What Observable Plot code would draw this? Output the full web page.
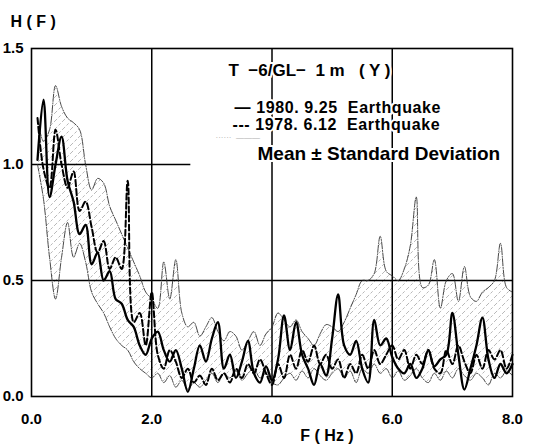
<!DOCTYPE html>
<html><head><meta charset="utf-8">
<script src="https://cdn.jsdelivr.net/npm/d3@7"></script>
<script src="https://cdn.jsdelivr.net/npm/@observablehq/plot@0.6"></script>
<style>
body{margin:0;background:#fff}
g[aria-label$="tick label"] text, g[aria-label$="tick label"]{font-weight:bold !important;}
.leg text{letter-spacing:0.6px}
</style>
</head><body><div id="chart"></div>
<script>
const freq = [0.1,0.2,0.3,0.4,0.5,0.6,0.7,0.8,0.9,1.0,1.1,1.2,1.3,1.4,1.5,1.6,1.7,1.8,1.9,2.0,
  2.1,2.2,2.3,2.4,2.5,2.6,2.7,2.8,2.9,3.0,3.1,3.2,3.3,3.4,3.5,3.6,3.7,3.8,3.9,4.0,
  4.1,4.2,4.3,4.4,4.5,4.6,4.7,4.8,4.9,5.0,5.1,5.2,5.3,5.4,5.5,5.6,5.7,5.8,5.9,6.0,
  6.1,6.2,6.3,6.4,6.5,6.6,6.7,6.8,6.9,7.0,7.1,7.2,7.3,7.4,7.5,7.6,7.7,7.8,7.9,8.0];
const eq1980 = [1.02,1.28,0.86,1.0,1.12,0.93,0.84,0.70,0.74,0.57,0.62,0.50,0.54,0.42,0.40,0.33,0.30,0.22,0.18,0.25,
  0.28,0.20,0.15,0.20,0.12,0.02,0.12,0.22,0.15,0.25,0.32,0.12,0.18,0.08,0.15,0.24,0.10,0.06,0.13,0.07,
  0.16,0.35,0.20,0.32,0.18,0.12,0.05,0.14,0.09,0.25,0.44,0.22,0.18,0.24,0.12,0.06,0.33,0.22,0.25,0.17,
  0.12,0.10,0.14,0.08,0.12,0.20,0.13,0.16,0.18,0.36,0.18,0.03,0.12,0.22,0.34,0.16,0.08,0.14,0.10,0.14];
const eq1978 = [1.20,0.98,0.90,1.15,1.00,0.90,0.97,0.80,0.84,0.73,0.62,0.67,0.55,0.60,0.55,0.93,0.32,0.36,0.22,0.45,
  0.18,0.12,0.20,0.15,0.08,0.12,0.06,0.09,0.05,0.12,0.07,0.10,0.06,0.12,0.08,0.14,0.10,0.16,0.10,0.05,
  0.14,0.08,0.18,0.12,0.20,0.15,0.22,0.14,0.18,0.12,0.16,0.08,0.14,0.10,0.18,0.12,0.20,0.14,0.18,0.22,
  0.16,0.20,0.12,0.18,0.14,0.20,0.12,0.10,0.20,0.14,0.22,0.15,0.10,0.18,0.12,0.20,0.16,0.20,0.12,0.18];
const sdUpper = [1.20,1.10,1.15,1.34,1.25,1.20,1.18,1.15,1.00,0.89,0.94,0.92,0.82,0.76,0.70,0.64,0.58,0.52,0.45,0.42,
  0.38,0.58,0.42,0.59,0.36,0.30,0.32,0.26,0.30,0.34,0.28,0.24,0.28,0.26,0.20,0.24,0.28,0.22,0.27,0.30,
  0.36,0.33,0.30,0.33,0.28,0.25,0.22,0.27,0.31,0.30,0.28,0.32,0.38,0.44,0.50,0.50,0.53,0.69,0.54,0.52,
  0.50,0.55,0.65,0.86,0.47,0.48,0.59,0.38,0.50,0.53,0.41,0.56,0.43,0.41,0.45,0.47,0.50,0.66,0.47,0.45];
const sdLower = [1.00,0.85,0.60,0.42,0.60,0.75,0.60,0.66,0.58,0.45,0.40,0.36,0.30,0.25,0.22,0.20,0.15,0.12,0.10,0.08,
  0.10,0.06,0.09,0.04,0.07,0.03,0.06,0.04,0.07,0.10,0.06,0.10,0.08,0.11,0.07,0.10,0.12,0.08,0.10,0.06,
  0.05,0.08,0.10,0.07,0.11,0.08,0.12,0.09,0.07,0.10,0.12,0.08,0.11,0.06,0.12,0.10,0.14,0.10,0.12,0.08,
  0.11,0.07,0.09,0.12,0.08,0.06,0.10,0.07,0.11,0.08,0.12,0.09,0.07,0.10,0.08,0.05,0.10,0.08,0.11,0.09];
const xTicks = [0, 2, 4, 6, 8];
const yTicks = [0, 0.5, 1.0, 1.5];
const xGrid = [2, 4, 6];
const yGrid = [0.5];
const yGridShort = [1.0];

const rows = freq.map((f, i) => ({f, a: eq1980[i], b: eq1978[i], hi: sdUpper[i], lo: sdLower[i]}));
const font = "'Liberation Sans', Arial, Helvetica, sans-serif";
const halo = {stroke: "white", strokeWidth: 4};

const chart = Plot.plot({
  width: 534, height: 447,
  marginLeft: 31, marginRight: 22, marginTop: 48, marginBottom: 51,
  style: {fontFamily: font, background: "white", color: "black"},
  x: {domain: [0, 8]},
  y: {domain: [0, 1.5]},
  marks: [
    Plot.areaY(rows, {x: "f", y1: "lo", y2: "hi", fill: "url(#hatch)", curve: "catmull-rom"}),
    Plot.ruleX(xGrid, {stroke: "black", strokeWidth: 1.5}),
    Plot.ruleY(yGrid, {stroke: "black", strokeWidth: 1.5}),
    Plot.ruleY(yGridShort, {x1: 0, x2: 2.65, stroke: "black", strokeWidth: 1.5}),
    Plot.line(rows, {x: "f", y: "hi", stroke: "#333", strokeWidth: 0.9, strokeDasharray: "7,1.5,1,1.5", curve: "catmull-rom"}),
    Plot.line(rows, {x: "f", y: "lo", stroke: "#333", strokeWidth: 0.9, strokeDasharray: "7,1.5,1,1.5", curve: "catmull-rom"}),
    Plot.line(rows, {x: "f", y: "b", stroke: "black", strokeWidth: 2, strokeDasharray: "6,3", curve: "catmull-rom"}),
    Plot.line(rows, {x: "f", y: "a", stroke: "black", strokeWidth: 2.3, curve: "catmull-rom"}),
    Plot.frame({stroke: "black", strokeWidth: 1.6}),
    Plot.axisX({ticks: xTicks, tickFormat: d => d.toFixed(1), tickSize: 0, tickPadding: 17, label: null,
      fontSize: 15, fontWeight: "bold"}),
    Plot.axisY({ticks: yTicks, tickFormat: d => d.toFixed(1), tickSize: 0, tickPadding: 8, label: null,
      fontSize: 15, fontWeight: "bold"}),
    Plot.text(["T  −6/GL−  1 m   ( Y )"], {frameAnchor: "top-left", dx: 197, dy: 15, textAnchor: "start", fontSize: 17, fontWeight: "bold", ...halo, fill: "black"}),
    Plot.text(["— 1980. 9.25  Earthquake"], {frameAnchor: "top-left", dx: 203, dy: 53, textAnchor: "start", fontSize: 16, fontWeight: "bold", ...halo, fill: "black", className: "leg"}),
    Plot.text(["--- 1978. 6.12  Earthquake"], {frameAnchor: "top-left", dx: 201, dy: 70, textAnchor: "start", fontSize: 16, fontWeight: "bold", ...halo, fill: "black", className: "leg"}),
    Plot.text(["······  ———"], {frameAnchor: "top-left", dx: 184, dy: 86, textAnchor: "start", fontSize: 8, fontWeight: "normal", fill: "#aaa"}),
    Plot.text(["Mean ± Standard Deviation"], {frameAnchor: "top-left", dx: 226, dy: 98, textAnchor: "start", fontSize: 19, fontWeight: "bold", ...halo, fill: "black"}),
    Plot.text(["H ( F )"], {frameAnchor: "top-left", dx: -21, dy: -33, textAnchor: "start", fontSize: 16, fontWeight: "bold", fill: "black"}),
    Plot.text(["F ( Hz )"], {frameAnchor: "bottom", dx: 55, dy: 44, fontSize: 16, fontWeight: "bold", fill: "black"})
  ]
});

const svg = d3.select(chart);
svg.selectAll("g[aria-label$='tick label']").attr("font-weight", "bold");
const defs = svg.insert("defs", ":first-child");
const pat = defs.append("pattern").attr("id", "hatch").attr("patternUnits", "userSpaceOnUse")
  .attr("width", 8).attr("height", 8);
pat.append("path").attr("d", "M-1,9 L9,-1").attr("stroke", "#999").attr("stroke-width", 0.7).attr("stroke-dasharray", "3,2");
document.getElementById("chart").appendChild(chart);
</script>
</body></html>
